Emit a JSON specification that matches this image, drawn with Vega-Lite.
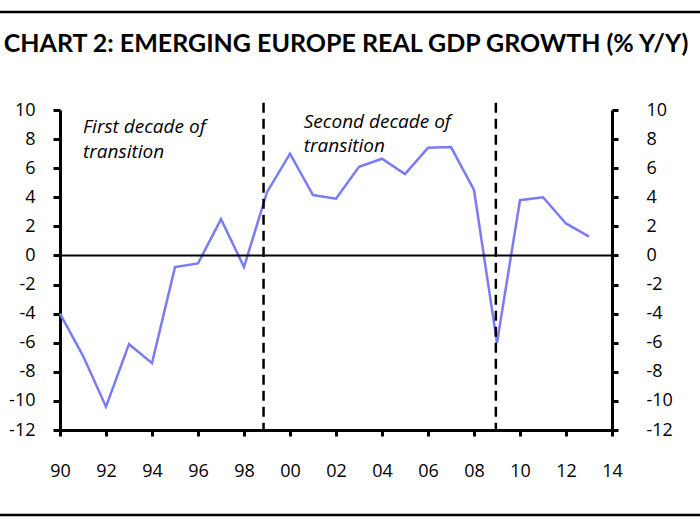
{
  "$schema": "https://vega.github.io/schema/vega-lite/v6.json",
  "width": 552,
  "height": 320,
  "autosize": {"type": "none"},
  "padding": {"left": 60, "top": 110, "right": 88, "bottom": 95},
  "background": "white",
  "config": {
    "view": {"stroke": null},
    "font": "Open Sans",
    "axis": {
      "title": null, "grid": false,
      "domainColor": "black", "domainWidth": 3,
      "tickColor": "black", "tickWidth": 3,
      "labelFont": "Open Sans", "labelFontSize": 18, "labelColor": "black",
      "labelFlush": false, "labelOverlap": false
    }
  },
  "title": {
    "text": "CHART 2: EMERGING EUROPE REAL GDP GROWTH (% Y/Y)",
    "font": "Lato",
    "fontSize": 25,
    "fontWeight": "bold",
    "color": "black",
    "anchor": "middle",
    "frame": "group",
    "dx": 10,
    "offset": -46
  },
  "datasets": {
    "gdp": [
      {"year": 1990, "growth": -4.0},
      {"year": 1991, "growth": -6.9},
      {"year": 1992, "growth": -10.4},
      {"year": 1993, "growth": -6.1},
      {"year": 1994, "growth": -7.4},
      {"year": 1995, "growth": -0.8},
      {"year": 1996, "growth": -0.55},
      {"year": 1997, "growth": 2.5},
      {"year": 1998, "growth": -0.8},
      {"year": 1999, "growth": 4.35},
      {"year": 2000, "growth": 7.0},
      {"year": 2001, "growth": 4.15},
      {"year": 2002, "growth": 3.9},
      {"year": 2003, "growth": 6.1},
      {"year": 2004, "growth": 6.65},
      {"year": 2005, "growth": 5.6},
      {"year": 2006, "growth": 7.4},
      {"year": 2007, "growth": 7.45},
      {"year": 2008, "growth": 4.5},
      {"year": 2009, "growth": -6.0},
      {"year": 2010, "growth": 3.8},
      {"year": 2011, "growth": 4.0},
      {"year": 2012, "growth": 2.2},
      {"year": 2013, "growth": 1.3}
    ],
    "decades": [
      {"year": 1998.85},
      {"year": 2008.95}
    ],
    "notes": [
      {"year": 1991.0, "growth": 8.8, "label": "First decade of"},
      {"year": 1991.0, "growth": 7.1, "label": "transition"},
      {"year": 2000.6, "growth": 9.2, "label": "Second decade of"},
      {"year": 2000.6, "growth": 7.5, "label": "transition"}
    ],
    "zero": [{"growth": 0}]
  },
  "layer": [
    {
      "layer": [
        {
          "data": {"name": "gdp"},
          "mark": {"type": "line", "color": "#7b7bf5", "strokeWidth": 2.5},
          "encoding": {
            "x": {
              "field": "year", "type": "quantitative",
              "scale": {"domain": [1990, 2014], "nice": false, "zero": false},
              "axis": {
                "values": [1990, 1992, 1994, 1996, 1998, 2000, 2002, 2004, 2006, 2008, 2010, 2012, 2014],
                "format": "d",
                "labelExpr": "substring(datum.label, 2)",
                "tickSize": 6, "labelPadding": 26
              }
            },
            "y": {
              "field": "growth", "type": "quantitative",
              "scale": {"domain": [-12, 10], "nice": false, "zero": false},
              "axis": {
                "orient": "left",
                "values": [-12, -10, -8, -6, -4, -2, 0, 2, 4, 6, 8, 10],
                "labelExpr": "toString(datum.value)",
                "tickSize": 7, "labelPadding": 18
              }
            }
          }
        },
        {
          "data": {"name": "decades"},
          "mark": {"type": "rule", "color": "black", "strokeWidth": 2.5, "strokeDash": [10, 6]},
          "encoding": {
            "x": {
              "field": "year", "type": "quantitative",
              "axis": {
                "values": [1990, 1992, 1994, 1996, 1998, 2000, 2002, 2004, 2006, 2008, 2010, 2012, 2014],
                "format": "d",
                "labelExpr": "substring(datum.label, 2)",
                "tickSize": 6, "labelPadding": 26
              }
            },
            "y": {
              "datum": 10.5, "type": "quantitative",
              "axis": {
                "orient": "left",
                "values": [-12, -10, -8, -6, -4, -2, 0, 2, 4, 6, 8, 10],
                "labelExpr": "toString(datum.value)",
                "tickSize": 7, "labelPadding": 18
              }
            },
            "y2": {"datum": -12}
          }
        },
        {
          "data": {"name": "notes"},
          "mark": {"type": "text", "align": "left", "baseline": "middle", "font": "Open Sans", "fontStyle": "italic", "fontSize": 19, "color": "black"},
          "encoding": {
            "x": {
              "field": "year", "type": "quantitative",
              "axis": {
                "values": [1990, 1992, 1994, 1996, 1998, 2000, 2002, 2004, 2006, 2008, 2010, 2012, 2014],
                "format": "d",
                "labelExpr": "substring(datum.label, 2)",
                "tickSize": 6, "labelPadding": 26
              }
            },
            "y": {
              "field": "growth", "type": "quantitative",
              "axis": {
                "orient": "left",
                "values": [-12, -10, -8, -6, -4, -2, 0, 2, 4, 6, 8, 10],
                "labelExpr": "toString(datum.value)",
                "tickSize": 7, "labelPadding": 18
              }
            },
            "text": {"field": "label"}
          }
        },
        {
          "data": {"values": [{}]},
          "mark": {"type": "rule", "color": "black", "strokeWidth": 2.5, "clip": false},
          "encoding": {
            "x": {
              "datum": 1987.2, "type": "quantitative",
              "axis": {
                "values": [1990, 1992, 1994, 1996, 1998, 2000, 2002, 2004, 2006, 2008, 2010, 2012, 2014],
                "format": "d",
                "labelExpr": "substring(datum.label, 2)",
                "tickSize": 6, "labelPadding": 26
              }
            },
            "x2": {"datum": 2018.2},
            "y": {
              "datum": 16.74, "type": "quantitative",
              "axis": {
                "orient": "left",
                "values": [-12, -10, -8, -6, -4, -2, 0, 2, 4, 6, 8, 10],
                "labelExpr": "toString(datum.value)",
                "tickSize": 7, "labelPadding": 18
              }
            }
          }
        },
        {
          "data": {"values": [{}]},
          "mark": {"type": "rule", "color": "black", "strokeWidth": 2.5, "clip": false},
          "encoding": {
            "x": {
              "datum": 1987.2, "type": "quantitative",
              "axis": {
                "values": [1990, 1992, 1994, 1996, 1998, 2000, 2002, 2004, 2006, 2008, 2010, 2012, 2014],
                "format": "d",
                "labelExpr": "substring(datum.label, 2)",
                "tickSize": 6, "labelPadding": 26
              }
            },
            "x2": {"datum": 2018.2},
            "y": {
              "datum": -17.84, "type": "quantitative",
              "axis": {
                "orient": "left",
                "values": [-12, -10, -8, -6, -4, -2, 0, 2, 4, 6, 8, 10],
                "labelExpr": "toString(datum.value)",
                "tickSize": 7, "labelPadding": 18
              }
            }
          }
        }
      ]
    },
    {
      "data": {"name": "zero"},
      "mark": {"type": "rule", "color": "black", "strokeWidth": 2},
      "encoding": {
        "y": {
          "field": "growth", "type": "quantitative",
          "scale": {"domain": [-12, 10], "nice": false, "zero": false},
          "axis": {
            "orient": "right",
            "values": [-12, -10, -8, -6, -4, -2, 0, 2, 4, 6, 8, 10],
            "labelExpr": "toString(datum.value)",
            "tickSize": 6, "labelPadding": 28
          }
        }
      }
    }
  ],
  "resolve": {"scale": {"y": "independent"}}
}
